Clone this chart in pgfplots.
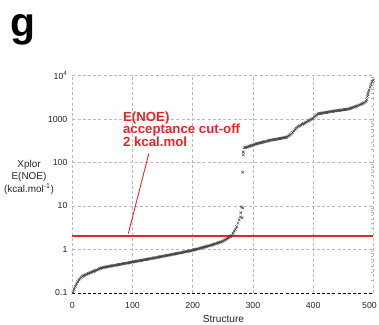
\documentclass[border=0pt]{standalone}
\usepackage{fontspec}
\setmainfont{Liberation Sans}
\usepackage{pgfplots}
\usepackage{pgfplotstable}
\pgfplotsset{compat=1.18}
\definecolor{noered}{RGB}{232,36,40}
\definecolor{gridgray}{RGB}{185,185,185}
\pgfplotstableread{
x y
1 0.100
3 0.120
5 0.140
7 0.160
9 0.180
11 0.198
13 0.213
15 0.228
17 0.240
19 0.250
21 0.257
23 0.264
25 0.272
27 0.279
29 0.287
31 0.295
33 0.303
35 0.311
37 0.320
39 0.329
41 0.338
43 0.347
45 0.357
47 0.367
49 0.377
51 0.382
53 0.386
55 0.391
57 0.396
59 0.400
61 0.405
63 0.410
65 0.415
67 0.420
69 0.425
71 0.430
73 0.435
75 0.440
77 0.446
79 0.451
81 0.457
83 0.462
85 0.468
87 0.473
89 0.479
91 0.485
93 0.491
95 0.497
97 0.503
99 0.509
101 0.515
103 0.521
105 0.528
107 0.534
109 0.540
111 0.547
113 0.553
115 0.560
117 0.567
119 0.574
121 0.581
123 0.588
125 0.595
127 0.602
129 0.609
131 0.617
133 0.624
135 0.632
137 0.639
139 0.647
141 0.655
143 0.663
145 0.671
147 0.679
149 0.687
151 0.696
153 0.705
155 0.714
157 0.723
159 0.733
161 0.742
163 0.752
165 0.761
167 0.771
169 0.781
171 0.791
173 0.801
175 0.812
177 0.822
179 0.833
181 0.844
183 0.855
185 0.866
187 0.877
189 0.888
191 0.900
193 0.911
195 0.923
197 0.935
199 0.947
201 0.964
203 0.981
205 0.998
207 1.015
209 1.033
211 1.051
213 1.070
215 1.088
217 1.108
219 1.127
221 1.147
223 1.167
225 1.187
227 1.208
229 1.229
231 1.255
233 1.282
235 1.310
237 1.338
239 1.366
241 1.395
243 1.425
245 1.456
247 1.487
249 1.520
251 1.580
253 1.640
255 1.710
257 1.780
259 1.850
261 1.920
263 2.000
265 2.080
267 2.350
269 2.650
271 2.900
273 3.300
275 4.000
277 4.800
279 5.600
280 7.000
281 9.500
282 5.400
283 9.000
283 60
284 150
284 175
286 218
288 222
290 227
292 232
294 237
296 242
298 247
300 253
302 259
304 265
306 270
308 275
310 279
312 284
314 289
316 294
318 298
320 303
322 308
324 313
326 318
328 323
330 327
332 331
334 335
336 339
338 343
340 347
342 351
344 355
346 360
348 364
350 368
352 373
354 379
356 385
358 400
360 420
362 440
364 460
366 495
368 535
370 575
372 615
374 655
376 685
378 710
380 735
382 760
384 785
386 810
388 840
390 870
392 905
394 940
396 975
398 1010
400 1050
402 1110
404 1180
406 1250
408 1320
410 1340
412 1355
414 1370
416 1385
418 1400
420 1415
422 1430
424 1445
426 1460
428 1480
430 1500
432 1513
434 1527
436 1541
438 1555
440 1569
442 1583
444 1597
446 1611
448 1625
450 1640
452 1655
454 1670
456 1685
458 1700
460 1735
462 1775
464 1815
466 1855
468 1895
470 1940
472 1985
474 2030
476 2090
478 2150
480 2210
482 2280
484 2350
486 2440
488 2550
489 2800
490 3330
491 3700
492 4200
493 4700
495 5500
496 6300
498 7300
500 7800
}\noedata
\begin{document}
\begin{tikzpicture}
\begin{axis}[
  scale only axis, width=301bp, height=217.1bp,
  ymode=log, xmin=0, xmax=500, ymin=0.1, ymax=10000,
  axis line style={draw=none},
  xtick={0,100,200,300,400,500},
  xticklabels={0,100,200,300,400,{}},
  ytick={0.1,1,10,100,1000,10000},
  yticklabels={0.1,1,10,100,1000,{10\textsuperscript{4}}},
  xtick style={draw=none},
  ytick pos=right, yticklabel pos=left,
  major tick length=0pt, minor tick length=2.5bp, tick align=inside,
  minor tick style={gridgray, line width=0.4pt},
  grid=major,
  major grid style={gridgray, line width=0.5pt, dash pattern=on 3bp off 2.2bp},
  tick label style={font=\fontsize{8.8}{9}\selectfont, text=black!85},
  xticklabel style={yshift=-6bp},
  yticklabel style={xshift=-1.4bp},
  /pgf/number format/assume math mode=true,
  clip=false,
]
\coordinate (O) at (rel axis cs:0,0);
\addplot[only marks, mark=x, mark size=1.9pt, black!75, mark options={line width=0.45pt}] table[x=x,y=y] {\noedata};
\addplot[noered, opacity=0.7, line width=0.9pt, restrict x to domain=0:266] table[x=x,y=y] {\noedata};
\addplot[noered, line width=2pt] coordinates {(0,2) (500,2)};
\addplot[noered, line width=0.9pt] coordinates {(93,2.3) (127,159)};
\draw[black, line width=0.6pt, dash pattern=on 3bp off 2.2bp] (rel axis cs:0,0) -- (rel axis cs:1,0);
\node[anchor=north west, inner sep=0pt, align=left, text=noered,
      font=\bfseries\fontsize{13.3}{12.5}\selectfont] at (axis cs:84,1500)
      {E(NOE)\\acceptance cut-off\\2 kcal.mol};
\node[anchor=north, inner sep=0.333em, yshift=-6bp, font=\fontsize{8.8}{9}\selectfont, text=black!85]
  at (axis cs:493.6,0.1) {500};
\end{axis}
\node[align=center, font=\fontsize{10}{12.5}\selectfont, text=black!85] at ([shift={(-43.3bp,115.8bp)}]O)
  {Xplor\\E(NOE)\\(kcal.mol\textsuperscript{-1})};
\node[anchor=base, font=\fontsize{10.2}{11}\selectfont, text=black!85] at ([shift={(151.2bp,-29.9bp)}]O) {Structure};
\node[anchor=base west, inner sep=0pt, font=\bfseries\fontsize{41}{41}\selectfont] at ([shift={(-61.8bp,255.8bp)}]O) {g};
\pgfresetboundingbox
\path[use as bounding box] ([shift={(-72.3bp,-32.2bp)}]O) rectangle ([shift={(306.7bp,292.8bp)}]O);
\end{tikzpicture}
\end{document}
